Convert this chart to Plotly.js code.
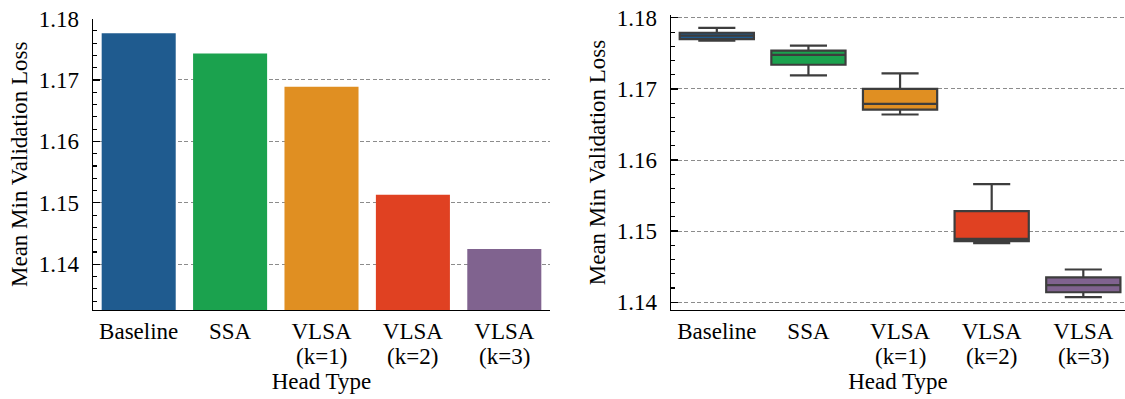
<!DOCTYPE html>
<html>
<head>
<meta charset="utf-8">
<script src="https://cdn.plot.ly/plotly-3.0.1.min.js"></script>
<style>
  html, body { margin: 0; padding: 0; background: #fff; }
  #chart { width: 1125px; height: 399px; }
</style>
</head>
<body>
<div id="chart"></div>
<script>
// Head types compared in both panels
const headTypes = ['Baseline', 'SSA', 'VLSA (k=1)', 'VLSA (k=2)', 'VLSA (k=3)'];
// Category labels are drawn on two lines: the head name, then its k value
const tickLine1 = ['Baseline', 'SSA', 'VLSA', 'VLSA', 'VLSA'];
const tickLine2 = ['', '', '(k=1)', '(k=2)', '(k=3)'];
const headColors = ['#1f5b8f', '#1ba24e', '#e08f22', '#e04122', '#80638f'];

// Mean of the minimum validation loss per head type (bar panel)
const meanMinLoss = [1.1776, 1.1743, 1.1689, 1.1513, 1.1425];

// Distribution of the minimum validation loss across runs (box panel)
const lowerWhisker = [1.1768, 1.1719, 1.1664, 1.1483, 1.1407];
const quartile1    = [1.1770, 1.1734, 1.1671, 1.1486, 1.1414];
const medianLoss   = [1.1775, 1.1748, 1.1679, 1.1489, 1.1424];
const quartile3    = [1.1779, 1.1754, 1.1700, 1.1528, 1.1435];
const upperWhisker = [1.1786, 1.1761, 1.1722, 1.1566, 1.1446];

const W = 1125, H = 399;
const SERIF = 'Liberation Serif';
const FS = 23;
const serifFont = () => ({ family: SERIF, size: FS, color: '#000' });

const traces = [];

traces.push({
  type: 'bar',
  x: headTypes,
  y: meanMinLoss,
  width: 0.81,
  marker: { color: headColors, line: { width: 0 } },
  xaxis: 'x', yaxis: 'y',
  hoverinfo: 'skip',
  showlegend: false
});

headTypes.forEach((h, i) => {
  traces.push({
    type: 'box',
    x: [h],
    q1: [quartile1[i]],
    median: [medianLoss[i]],
    q3: [quartile3[i]],
    lowerfence: [lowerWhisker[i]],
    upperfence: [upperWhisker[i]],
    width: 0.81,
    whiskerwidth: 0.5,
    fillcolor: headColors[i],
    line: { color: '#3d3d3d', width: 2.2 },
    boxpoints: false,
    xaxis: 'x2', yaxis: 'y2',
    hoverinfo: 'skip',
    showlegend: false
  });
});

function yAxis(extra) {
  return Object.assign({
    dtick: 0.01,
    tickformat: '.2f',
    ticks: 'inside',
    ticklen: 7,
    tickwidth: 1.3,
    tickcolor: '#000',
    ticklabelstandoff: 8,
    showline: true,
    linecolor: '#000',
    linewidth: 1.4,
    showgrid: true,
    gridcolor: '#8c8c8c',
    gridwidth: 1,
    griddash: '4px,2.5px',
    zeroline: false,
    minor: { dtick: 0.002, ticks: 'inside', ticklen: 4, tickwidth: 1.1, tickcolor: '#000', showgrid: false },
    tickfont: serifFont(),
    title: { text: 'Mean Min Validation Loss', font: serifFont(), standoff: 4 }
  }, extra);
}

function xAxis(extra) {
  return Object.assign({
    type: 'category',
    ticks: '',
    tickmode: 'array',
    tickvals: headTypes,
    ticktext: tickLine1,
    showline: true,
    linecolor: '#000',
    linewidth: 1.4,
    showgrid: false,
    zeroline: false,
    tickfont: serifFont(),
    title: { text: 'Head Type', font: serifFont(), standoff: 30 }
  }, extra);
}

const bottom = 1 - 310 / H;

// second line of each category label, under the first line
const subLabels = [];
['x', 'x2'].forEach(xr => {
  headTypes.forEach((h, i) => {
    if (!tickLine2[i]) return;
    subLabels.push({
      xref: xr, yref: 'paper',
      x: h, y: 1 - 356 / H,
      xanchor: 'center', yanchor: 'middle',
      text: tickLine2[i],
      showarrow: false,
      font: serifFont()
    });
  });
});

const layout = {
  width: W,
  height: H,
  margin: { l: 0, r: 0, t: 0, b: 0 },
  paper_bgcolor: '#fff',
  plot_bgcolor: '#fff',
  font: serifFont(),
  boxmode: 'overlay',
  showlegend: false,
  xaxis: xAxis({ domain: [93 / W, 550 / W], range: [-0.5, 4.5], anchor: 'y' }),
  yaxis: yAxis({ domain: [bottom, 1 - 18.5 / H], range: [1.13256, 1.18], anchor: 'x' }),
  xaxis2: xAxis({ domain: [671 / W, 1], range: [-0.5, 4.455], anchor: 'y2' }),
  yaxis2: yAxis({ domain: [bottom, 1 - 15 / H], range: [1.1389, 1.1804], anchor: 'x2' }),
  annotations: subLabels
};

Plotly.newPlot('chart', traces, layout, { staticPlot: true, displayModeBar: false });
</script>
</body>
</html>
